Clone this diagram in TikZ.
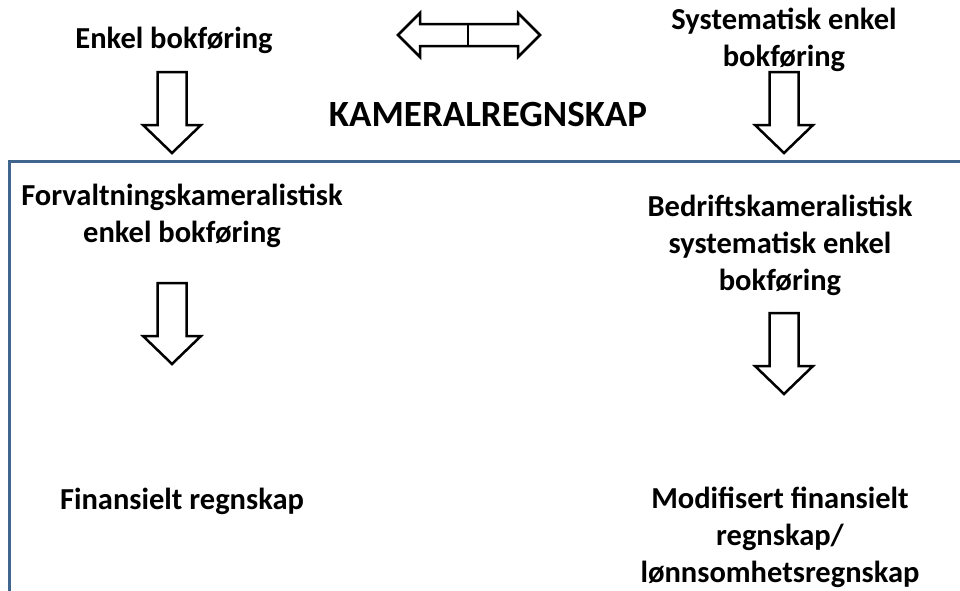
\documentclass[tikz,border=0pt]{standalone}
\usepackage{fontspec}
\setmainfont{Carlito}
\usetikzlibrary{positioning}
\definecolor{framecol}{RGB}{65,102,142}

\begin{document}
\begin{tikzpicture}[x=1pt,y=-1pt,
lbl/.style={font=\fontsize{30.5}{37}\selectfont\bfseries,align=center,inner sep=0pt},
titlelbl/.style={font=\fontsize{37}{44}\selectfont\bfseries,inner sep=0pt},
blockline/.style={draw=black,line width=2.5pt,fill=white,line join=miter},
downarrow/.pic={\path[blockline] (-14.5,0) -- (14.5,0) -- (14.5,53) -- (29,53) -- (0,81) -- (-29,53) -- (-14.5,53) -- cycle;},
swaparrow/.pic={\path[blockline] (-71,0) -- (-49,-22) -- (-49,-11) -- (49,-11) -- (49,-22) -- (71,0) -- (49,22) -- (49,11) -- (-49,11) -- (-49,22) -- cycle;
\draw[line width=2.5pt] (-1,-11) -- (-1,11);}
]
\useasboundingbox (0,0) rectangle (960,590);

% frame round the lower part
\draw[framecol,line width=3pt] (975,161) -- (9,161) -- (9,605);

% top row
\node[lbl] (enkel) at (174,40) {Enkel bokføring};
\node[lbl] (systematisk) at (784,40) {Systematisk enkel\\bokføring};
\node[titlelbl] (kameral) at (488,114) {KAMERALREGNSKAP};
\coordinate (swap) at (469,35);
\pic at (swap) {swaparrow};

% arrows into the frame
\coordinate (downA) at (172,72);
\coordinate (downB) at (784,72);
\pic at (downA) {downarrow};
\pic at (downB) {downarrow};

% inside the frame
\node[lbl] (forvaltning) at (182,216) {Forvaltningskameralistisk\\enkel bokføring};
\node[lbl] (bedrift) at (780,245) {Bedriftskameralistisk\\systematisk enkel\\bokføring};

\coordinate (downC) at (172,283);
\coordinate (downD) at (784,313);
\pic at (downC) {downarrow};
\pic at (downD) {downarrow};

\node[lbl] (finansielt) at (182,501) {Finansielt regnskap};
\node[lbl] (modifisert) at (780,537) {Modifisert finansielt\\regnskap/\\lønnsomhetsregnskap};
\end{tikzpicture}
\end{document}
